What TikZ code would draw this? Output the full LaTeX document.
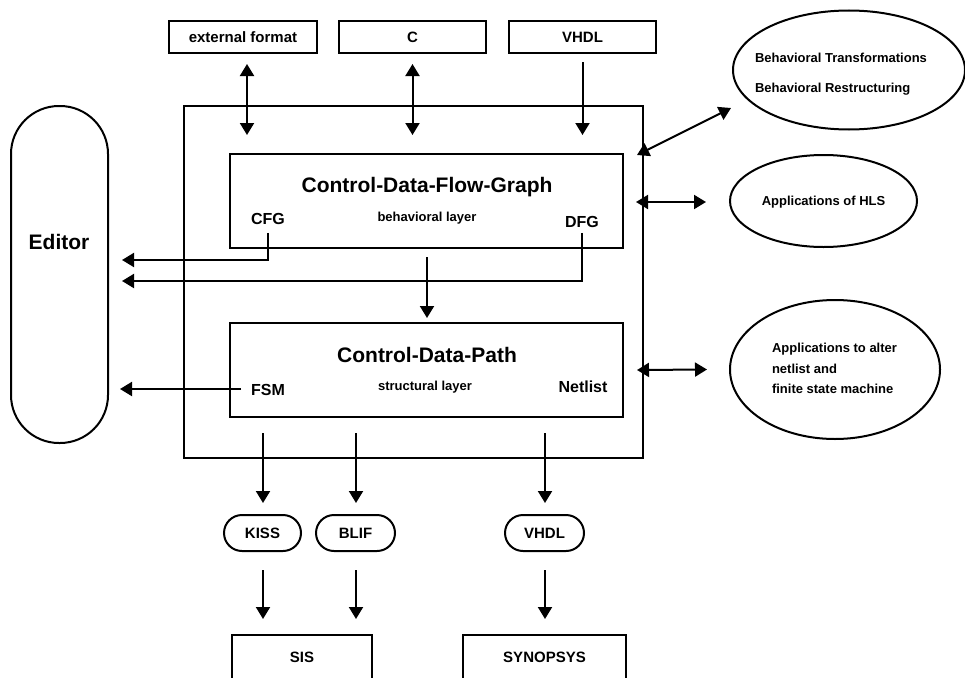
\documentclass[tikz,border=0pt]{standalone}
\usepackage{fontspec}
\setmainfont{Liberation Sans}
\usetikzlibrary{arrows.meta,shapes.geometric,calc}
\tikzset{
  every node/.style={inner sep=0pt, outer sep=0pt, text depth=0pt},
  fa/.style={font=\fontsize{13}{13}\selectfont\bfseries, text height=9.3pt},
  fb/.style={font=\fontsize{15}{15}\selectfont\bfseries, text height=10.7pt},
  fc/.style={font=\fontsize{16}{16}\selectfont\bfseries, text height=11.5pt},
  fd/.style={font=\fontsize{21}{21}\selectfont\bfseries, text height=15pt},
  box/.style={draw, line width=2pt},
  arr/.style={line width=2pt, -{Triangle[length=12pt,width=14pt]}},
  darr/.style={line width=2pt, {Triangle[length=12pt,width=14pt]}-{Triangle[length=12pt,width=14pt]}},
  pill/.style={box, rounded corners=18pt, minimum height=36pt, fb},
  topbox/.style={box, minimum height=32pt, fb},
}
\begin{document}
\begin{tikzpicture}[x=1pt,y=-1pt]
\useasboundingbox (0,0) rectangle (965,677);
% top inputs
\node[topbox, minimum width=148pt] (ext) at (243,37) {external format};
\node[topbox, minimum width=147pt] (cin) at (412.5,37) {C};
\node[topbox, minimum width=147pt] (vin) at (582.5,37) {VHDL};
% main boxes
\node[box, minimum width=459pt, minimum height=352pt] (outer) at (413.5,282) {};
\node[box, minimum width=393pt, minimum height=94pt] (cdfg) at (426.5,201) {};
\node[box, minimum width=393pt, minimum height=94pt] (cdp) at (426.5,370) {};
\node[fd] (cdfgt) at (427,185) {Control-Data-Flow-Graph};
\node[fa] (behl) at (427,217) {behavioral layer};
\node[fc] (cfg) at (268,219) {CFG};
\node[fc] (dfg) at (582,222) {DFG};
\node[fd] (cdpt) at (427,355) {Control-Data-Path};
\node[fa] (strl) at (425,386) {structural layer};
\node[fc] (fsm) at (268,390) {FSM};
\node[fc] (net) at (583,387) {Netlist};
% editor
\node[box, rounded corners=48pt, minimum width=97pt, minimum height=337pt] (editor) at (59.5,274.5) {};
\node[fd] (edt) at (59,242) {Editor};
% ellipses
\node[box, ellipse, minimum width=232pt, minimum height=119pt] (beh) at (849,70) {};
\node[fa, anchor=west] (beh1) at (755,58) {Behavioral Transformations};
\node[fa, anchor=west] (beh2) at (755,88) {Behavioral Restructuring};
\node[box, ellipse, minimum width=187pt, minimum height=92pt, fa] (hls) at (823.5,201) {Applications of HLS};
\node[box, ellipse, minimum width=210pt, minimum height=139pt] (alt) at (835,369.5) {};
\node[fa, anchor=west] (alt1) at (772,348) {Applications to alter};
\node[fa, anchor=west] (alt2) at (772,369) {netlist and};
\node[fa, anchor=west] (alt3) at (772,389) {finite state machine};
% outputs
\node[pill, minimum width=77pt] (kiss) at (262.5,533) {KISS};
\node[pill, minimum width=79pt] (blif) at (355.5,533) {BLIF};
\node[pill, minimum width=79pt] (vout) at (544.5,533) {VHDL};
\node[topbox, minimum width=140pt, minimum height=44pt] (sis) at (302,657) {SIS};
\node[topbox, minimum width=163pt, minimum height=44pt] (syn) at (544.5,657) {SYNOPSYS};
% connectors
\draw[darr] ($(ext.south)+(4,11)$) -- ($(ext.south)+(4,82)$);
\draw[darr] ($(cin.south)+(0,11)$) -- ($(cin.south)+(0,82)$);
\draw[arr] ($(vin.south)+(0,9)$) -- ($(vin.south)+(0,82)$);
\draw[darr] ($(cdfg.north east)+(14,1)$) -- ($(beh.center)+(-118,38)$);
\draw[darr] ($(cdfg.east)+(13,1)$) -- ($(hls.west)+(-24,1)$);
\draw[darr] ($(cdp.east)+(14,0)$) -- ($(alt.west)+(-23,0)$);
\draw[arr] ($(cfg.south)+(0,8)$) |- ($(editor.east)+(14,-14.5)$);
\draw[arr] ($(dfg.south)+(0,5)$) |- ($(editor.east)+(14,6.5)$);
\draw[arr] ($(cdfg.south)+(0.5,9)$) -- ($(cdp.north)+(0.5,-5)$);
\draw[arr] ($(cdp.west)+(11,19)$) -- ($(editor.east)+(12,114.5)$);
\draw[arr] ($(kiss.north)+(0.5,-82)$) -- ($(kiss.north)+(0.5,-12)$);
\draw[arr] ($(blif.north)+(0.5,-82)$) -- ($(blif.north)+(0.5,-12)$);
\draw[arr] ($(vout.north)+(0.5,-82)$) -- ($(vout.north)+(0.5,-12)$);
\draw[arr] ($(kiss.south)+(0.5,19)$) -- ($(kiss.south)+(0.5,68)$);
\draw[arr] ($(blif.south)+(0.5,19)$) -- ($(blif.south)+(0.5,68)$);
\draw[arr] ($(vout.south)+(0.5,19)$) -- ($(vout.south)+(0.5,68)$);
\end{tikzpicture}
\end{document}
